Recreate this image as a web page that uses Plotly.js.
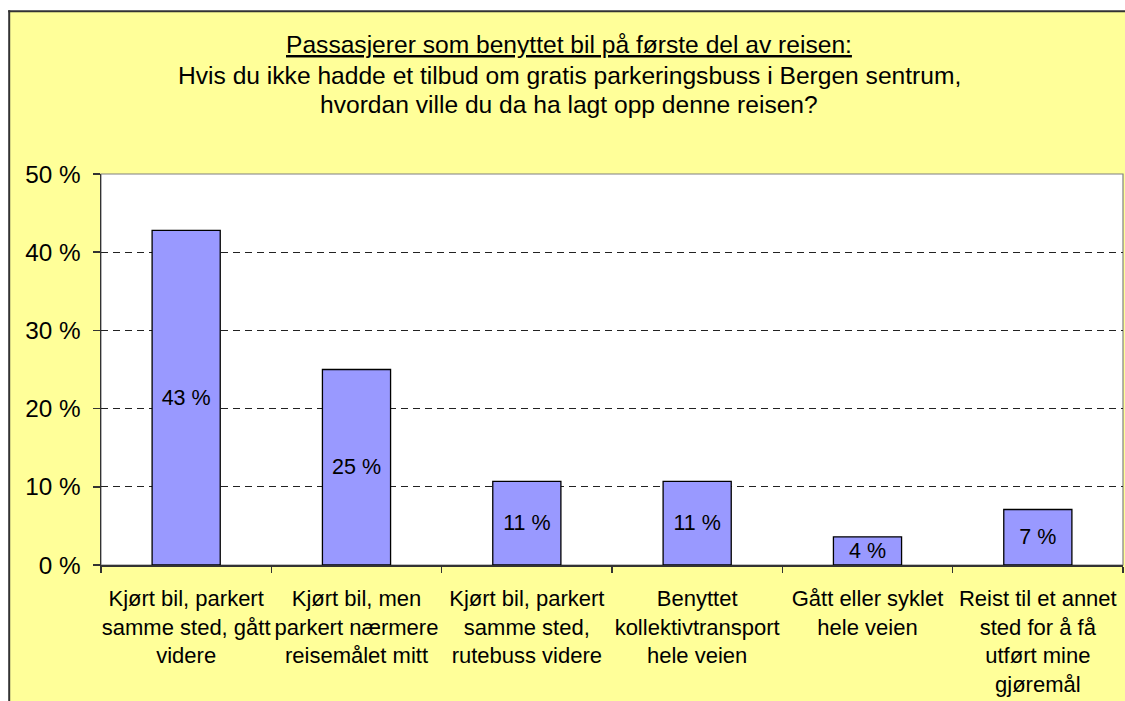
<!DOCTYPE html>
<html>
<head>
<meta charset="utf-8">
<script src="https://cdn.plot.ly/plotly-3.0.1.min.js"></script>
<style>
  html, body { margin: 0; padding: 0; background: #ffffff; }
  #chart { width: 1125px; height: 701px; }
</style>
</head>
<body>
<div id="chart"></div>
<script>
// ---- data ----
const categories = [
  "Kjørt bil, parkert<br>samme sted, gått<br>videre",
  "Kjørt bil, men<br>parkert nærmere<br>reisemålet mitt",
  "Kjørt bil, parkert<br>samme sted,<br>rutebuss videre",
  "Benyttet<br>kollektivtransport<br>hele veien",
  "Gått eller syklet<br>hele veien",
  "Reist til et annet<br>sted for å få<br>utført mine<br>gjøremål"
];
const shares = [42.8, 25.0, 10.7, 10.7, 3.6, 7.1];
const barLabels = ["43 %", "25 %", "11 %", "11 %", "4 %", "7 %"];
const yTickValues = [0, 10, 20, 30, 40, 50];
const yTickLabels = ["0 %", "10 %", "20 %", "30 %", "40 %", "50 %"];
const titleLines = [
  "Passasjerer som benyttet bil på første del av reisen:",
  "Hvis du ikke hadde et tilbud om gratis parkeringsbuss i Bergen sentrum,",
  "hvordan ville du da ha lagt opp denne reisen?"
];

// ---- layout geometry (pixels) ----
const W = 1125, H = 701;
const M = { l: 101, r: 2, t: 174, b: 136 };
const PW = W - M.l - M.r, PH = H - M.t - M.b;
const px2x = p => (p - M.l) / PW;
const py2y = p => (H - M.b - p) / PH;

const FONT = "Arial, 'Liberation Sans', sans-serif";
const TITLE_SIZE = 24.6;
const titleBaselines = [52.7, 84.3, 112.7];

const trace = {
  type: "bar",
  x: categories,
  y: shares,
  text: barLabels,
  textposition: "inside",
  insidetextanchor: "middle",
  constraintext: "none",
  textangle: 0,
  textfont: { family: FONT, size: 21.5, color: "#000000" },
  marker: { color: "#9999FF", line: { color: "#000000", width: 1.3 } },
  hoverinfo: "skip"
};

const titleAnnotations = titleLines.map((line, i) => ({
  text: i === 0 ? '<span style="text-decoration:underline">' + line + '</span>' : line,
  xref: "paper", yref: "paper",
  x: px2x(569), xanchor: "center",
  y: py2y(titleBaselines[i] - 0.3465 * TITLE_SIZE), yanchor: "middle",
  showarrow: false,
  font: { family: FONT, size: TITLE_SIZE, color: "#000000" }
}));

const layout = {
  width: W, height: H,
  margin: M,
  paper_bgcolor: "#FFFF99",
  plot_bgcolor: "#ffffff",
  showlegend: false,
  bargap: 0.6,
  font: { family: FONT, color: "#000000" },
  annotations: titleAnnotations,
  xaxis: {
    type: "category",
    showline: true, linecolor: "#333333", linewidth: 1.5,
    ticks: "outside", tickson: "boundaries", ticklen: 6, tickcolor: "#333333", tickwidth: 1.5,
    ticklabelstandoff: 13,
    tickfont: { family: FONT, size: 22, color: "#000000" },
    tickangle: 0,
    showgrid: false, zeroline: false,
    fixedrange: true
  },
  yaxis: {
    range: [0, 50],
    tickvals: yTickValues, ticktext: yTickLabels,
    showline: true, linecolor: "#333333", linewidth: 1.5,
    ticks: "outside", ticklen: 7, tickcolor: "#333333", tickwidth: 1.5,
    ticklabelstandoff: 7,
    tickfont: { family: FONT, size: 24.3, color: "#000000" },
    showgrid: true, gridcolor: "#222222", gridwidth: 1, griddash: "7px,5px",
    zeroline: false,
    fixedrange: true
  },
  shapes: [
    // white page margin to the left and above the chart frame
    {
      type: "rect", layer: "below", xref: "paper", yref: "paper",
      x0: px2x(-5), x1: px2x(9.2), y0: py2y(710), y1: py2y(-5),
      fillcolor: "#ffffff", line: { width: 0 }
    },
    {
      type: "rect", layer: "below", xref: "paper", yref: "paper",
      x0: px2x(-5), x1: px2x(1130), y0: py2y(11.2), y1: py2y(-5),
      fillcolor: "#ffffff", line: { width: 0 }
    },
    // chart frame (left and top edges)
    {
      type: "line", layer: "below", xref: "paper", yref: "paper",
      x0: px2x(9.2), x1: px2x(9.2), y0: py2y(710), y1: py2y(10.2),
      line: { color: "#333333", width: 2 }
    },
    {
      type: "line", layer: "below", xref: "paper", yref: "paper",
      x0: px2x(8.2), x1: px2x(1130), y0: py2y(11.2), y1: py2y(11.2),
      line: { color: "#333333", width: 2 }
    },
    // plot area
    {
      type: "rect", layer: "below", xref: "paper", yref: "paper",
      x0: 0, x1: 1, y0: 0, y1: 1,
      fillcolor: "#ffffff", line: { color: "#808080", width: 1.2 }
    }
  ]
};

Plotly.newPlot("chart", [trace], layout, { staticPlot: true, displayModeBar: false });
</script>
</body>
</html>
